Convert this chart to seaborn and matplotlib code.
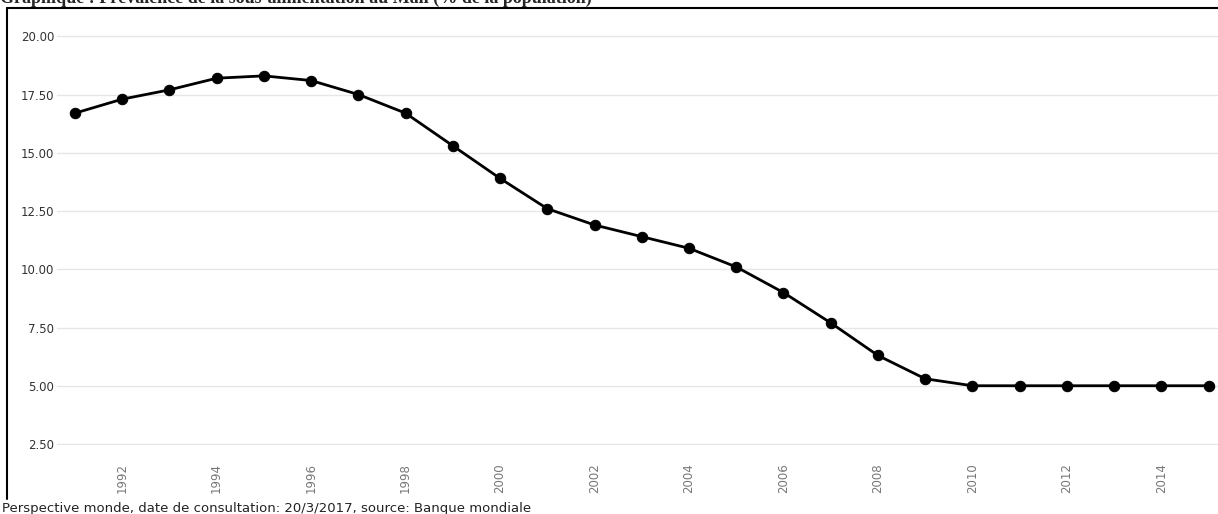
import pandas as pd
import numpy as np
import seaborn as sns
import matplotlib.pyplot as plt
from matplotlib.ticker import FormatStrFormatter

# Données
annees = list(range(1991, 2016))
valeurs = [16.7, 17.3, 17.7, 18.2, 18.3, 18.1, 17.5, 16.7, 15.3, 13.9,
           12.6, 11.9, 11.4, 10.9, 10.1, 9.0, 7.7, 6.3, 5.3, 5.0,
           5.0, 5.0, 5.0, 5.0, 5.0]
y_ticks = [2.5, 5.0, 7.5, 10.0, 12.5, 15.0, 17.5, 20.0]
x_ticks = list(range(1992, 2016, 2))

titre = 'Graphique : Prévalence de la sous-alimentation au Mali (% de la population)'
source = 'Perspective monde, date de consultation: 20/3/2017, source: Banque mondiale'

df = pd.DataFrame({'Annee': annees, 'Valeur': valeurs})

sns.set_style('white')
plt.rcParams['font.family'] = ['DejaVu Sans']

W, H = 1218, 514
fig = plt.figure(figsize=(W / 100, H / 100), dpi=100)
ax = fig.add_axes([57 / W, (H - 445) / H, (W - 57) / W, (445 - 9) / H])

sns.lineplot(data=df, x='Annee', y='Valeur', ax=ax, color='black',
             linewidth=2, marker='o', markersize=7.5, markeredgecolor='black',
             clip_on=False)

ax.set_xlim(1990.62, 2015.2)
ax.set_ylim(2.457, 21.17)
ax.set_yticks(y_ticks)
ax.yaxis.set_major_formatter(FormatStrFormatter('%.2f'))
ax.set_xticks(x_ticks)
ax.set_xticklabels([str(a) for a in x_ticks], rotation=90)
ax.set_xlabel('')
ax.set_ylabel('')
ax.grid(axis='y', color='#e6e6e6', linewidth=1)
ax.set_axisbelow(True)
for s in ax.spines.values():
    s.set_visible(False)
ax.tick_params(axis='y', length=0, pad=2, labelsize=8.5, labelcolor='#333333')
ax.tick_params(axis='x', length=10, width=1, color='#d8d8d8', pad=3,
               labelsize=8.5, labelcolor='#777777')

# Cadre (bord gauche et haut)
fig.add_artist(plt.Line2D([7 / W, 7 / W], [0.03, 1 - 8 / H], color='black', linewidth=1.5,
                          transform=fig.transFigure))
fig.add_artist(plt.Line2D([7 / W, 1], [1 - 8 / H, 1 - 8 / H], color='black', linewidth=1.5,
                          transform=fig.transFigure))

# Titre (coupé en haut dans l'original) et source
fig.text(0, 1 - 3 / H, titre, fontsize=13, fontweight='bold', family='Liberation Serif',
         va='baseline', ha='left')
fig.text(2 / W, 1 - 512 / H, source, fontsize=9.5, color='#222222', va='baseline', ha='left')

fig.savefig('out.png', dpi=100)
